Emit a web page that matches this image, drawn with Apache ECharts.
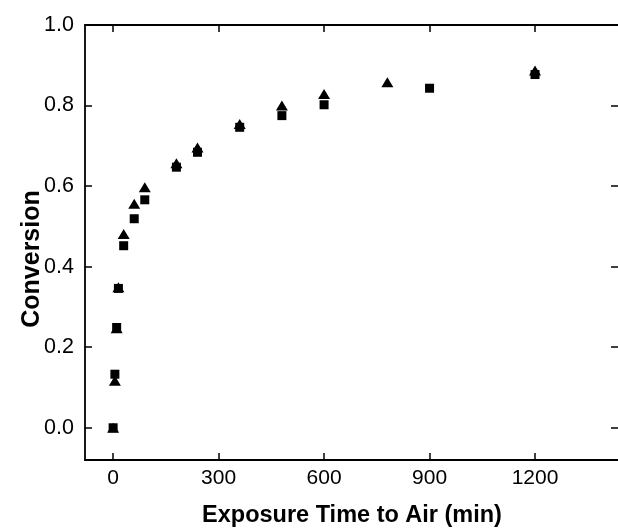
<!DOCTYPE html>
<html>
<head>
<meta charset="utf-8">
<script src="https://cdn.jsdelivr.net/npm/echarts@6/dist/echarts.min.js"></script>
<style>html,body{margin:0;padding:0;background:#fff;}#c{width:618px;height:530px;}</style>
</head>
<body>
<div id="c"></div>
<script>
// Data
var squareTimes = [0, 5, 10, 15, 30, 60, 90, 180, 240, 360, 480, 600, 900, 1200];
var squareConv  = [0.0, 0.133, 0.249, 0.346, 0.452, 0.519, 0.566, 0.647, 0.684, 0.746, 0.775, 0.802, 0.843, 0.877];
var triTimes = [0, 5, 10, 15, 30, 60, 90, 180, 240, 360, 480, 600, 780, 1200];
var triConv  = [0.0, 0.117, 0.247, 0.349, 0.481, 0.556, 0.597, 0.657, 0.696, 0.754, 0.800, 0.829, 0.858, 0.887];
var xTicks = [0, 300, 600, 900, 1200];
var yTicks = [0, 0.2, 0.4, 0.6, 0.8, 1.0];

function pairs(xs, ys) { return xs.map(function (x, i) { return [x, ys[i]]; }); }

var font = 'Liberation Sans, Arial, Helvetica, sans-serif';
var lineStyle = { color: '#000', width: 1.8 };
var tickStyle = { color: '#000', width: 1.5 };

var chart = echarts.init(document.getElementById('c'), null, { renderer: 'canvas' });
chart.setOption({
  animation: false,
  backgroundColor: '#fff',
  grid: { left: 85, right: -2, top: 25, bottom: 70 },
  xAxis: [
    {
      type: 'value', min: -80, max: 1436, position: 'bottom',
      axisLine: { show: true, onZero: false, lineStyle: lineStyle },
      axisTick: { show: true, inside: true, length: 7, lineStyle: tickStyle, customValues: xTicks },
      axisLabel: { show: true, customValues: xTicks, fontSize: 21, color: '#000', fontFamily: font, margin: 8,
        formatter: function (v) { return String(v); } },
      splitLine: { show: false }
    },
    {
      type: 'value', min: -80, max: 1436, position: 'top',
      axisLine: { show: true, onZero: false, lineStyle: lineStyle },
      axisTick: { show: true, inside: true, length: 7, lineStyle: tickStyle, customValues: xTicks },
      axisLabel: { show: false },
      splitLine: { show: false }
    }
  ],
  yAxis: [
    {
      type: 'value', min: -0.08, max: 1.0, position: 'left',
      axisLine: { show: true, onZero: false, lineStyle: lineStyle },
      axisTick: { show: true, inside: true, length: 7, lineStyle: tickStyle, customValues: yTicks },
      axisLabel: { show: true, customValues: yTicks, fontSize: 21.5, color: '#000', fontFamily: font, margin: 11,
        formatter: function (v) { return Number(v).toFixed(1); } },
      splitLine: { show: false }
    },
    {
      type: 'value', min: -0.08, max: 1.0, position: 'right',
      axisLine: { show: false, onZero: false, lineStyle: lineStyle },
      axisTick: { show: true, inside: true, length: 7, lineStyle: tickStyle, customValues: yTicks },
      axisLabel: { show: false },
      splitLine: { show: false }
    }
  ],
  graphic: [
    {
      type: 'text', x: 352, y: 516,
      style: { text: 'Exposure Time to Air (min)', font: 'bold 23.5px ' + font, fill: '#000',
        align: 'center', verticalAlign: 'middle' }
    },
    {
      type: 'text', x: 32, y: 259, rotation: Math.PI / 2,
      style: { text: 'Conversion', font: 'bold 25px ' + font, fill: '#000',
        align: 'center', verticalAlign: 'middle' }
    }
  ],
  series: [
    {
      type: 'scatter', name: 'square', xAxisIndex: 0, yAxisIndex: 0,
      symbol: 'rect', symbolSize: 9,
      itemStyle: { color: '#000', opacity: 1 },
      data: pairs(squareTimes, squareConv)
    },
    {
      type: 'scatter', name: 'triangle', xAxisIndex: 0, yAxisIndex: 0,
      symbol: 'triangle', symbolSize: [12, 10],
      itemStyle: { color: '#000', opacity: 1 },
      data: pairs(triTimes, triConv)
    }
  ]
});
</script>
</body>
</html>
